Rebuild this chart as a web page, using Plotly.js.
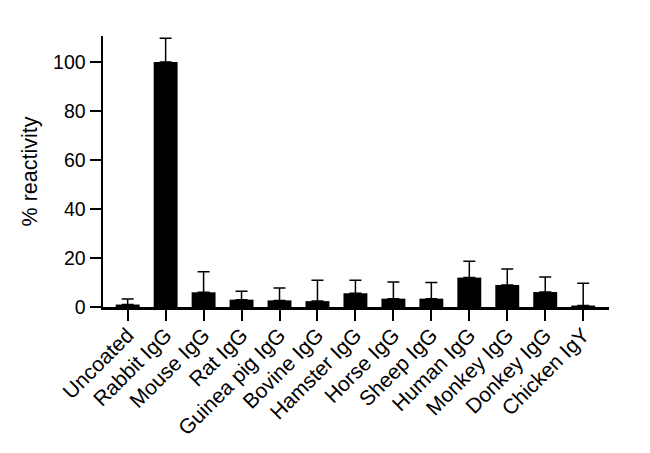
<!DOCTYPE html>
<html>
<head>
<meta charset="utf-8">
<script src="https://cdn.plot.ly/plotly-3.0.1.min.js"></script>
<style>
html, body {margin:0; padding:0; background:#fff;}
#chart {width:650px; height:453px;}
</style>
</head>
<body>
<div id="chart"></div>
<script>
// Reactivity of the antibody against coated IgGs (mean + SD).
var categories = ['Uncoated', 'Rabbit IgG', 'Mouse IgG', 'Rat IgG', 'Guinea pig IgG', 'Bovine IgG',
  'Hamster IgG', 'Horse IgG', 'Sheep IgG', 'Human IgG', 'Monkey IgG', 'Donkey IgG', 'Chicken IgY'];
var reactivity = [1.0, 100, 6.0, 3.0, 2.7, 2.4, 5.6, 3.4, 3.4, 12.0, 9.0, 6.1, 0.6];
var sd = [2.3, 9.7, 8.4, 3.4, 5.1, 8.5, 5.3, 6.8, 6.6, 6.7, 6.5, 6.1, 9.1];
var y_ticks = [0, 20, 40, 60, 80, 100];

var font_family = 'Liberation Sans, Arial, sans-serif';

var graph_data = [{
  type: 'bar',
  x: categories,
  y: reactivity,
  width: 0.63,
  marker: {color: '#000000', line: {width: 0}},
  error_y: {
    type: 'data',
    array: sd,
    symmetric: false,
    arrayminus: sd.map(function(){return 0;}),
    color: '#000000',
    thickness: 1.5,
    width: 6
  },
  hoverinfo: 'x+y'
}];

var layout = {
  width: 650,
  height: 453,
  margin: {l: 103, r: 41, t: 36, b: 146},
  paper_bgcolor: '#ffffff',
  plot_bgcolor: '#ffffff',
  showlegend: false,
  font: {family: font_family, size: 19, color: '#000000'},
  xaxis: {
    range: [-0.65, 12.68],
    showline: true,
    linecolor: '#000000',
    linewidth: 2.5,
    ticks: 'outside',
    ticklen: 11,
    tickwidth: 2,
    tickcolor: '#000000',
    tickangle: -45,
    ticklabelstandoff: -6,
    showgrid: false,
    zeroline: false,
    tickfont: {family: font_family, size: 21, color: '#000000'},
    automargin: false
  },
  yaxis: {
    range: [0, 110.6],
    tickvals: y_ticks,
    showline: true,
    linecolor: '#000000',
    linewidth: 2.5,
    ticks: 'outside',
    ticklen: 11,
    tickwidth: 2,
    tickcolor: '#000000',
    showgrid: false,
    zeroline: false,
    tickfont: {family: font_family, size: 19.5, color: '#000000'},
    automargin: false,
    title: {text: '% reactivity', font: {family: font_family, size: 21.5, color: '#000000'}, standoff: 10}
  },
  bargap: 0.37
};

Plotly.newPlot('chart', graph_data, layout, {displayModeBar: false, staticPlot: true});
</script>
</body>
</html>
